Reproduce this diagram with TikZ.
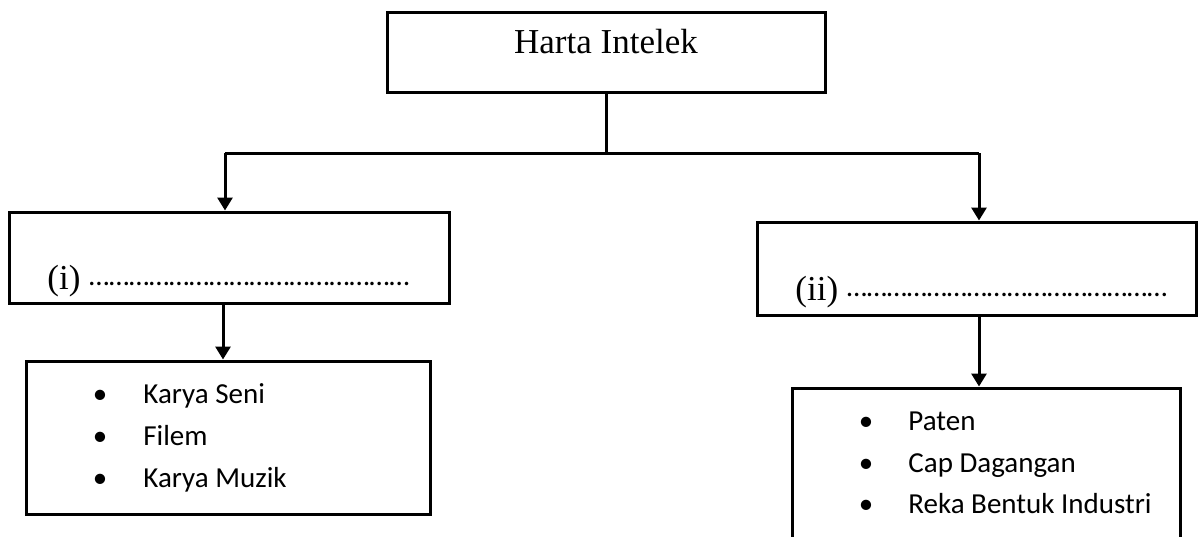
\documentclass[tikz,border=0pt]{standalone}
\usepackage{fontspec}
\setmainfont{Liberation Serif}
\newfontfamily\listfont{Carlito}
\usetikzlibrary{arrows.meta}

\tikzset{
  box/.style={draw, line width=1.5pt, inner sep=0pt},
  arr/.style={line width=1.5pt, -{Triangle[width=7.5pt,length=6.5pt]}},
  title/.style={font=\fontsize{17.5}{20}\selectfont, inner sep=0pt},
  item/.style={font=\listfont\fontsize{14.5}{17}\selectfont, inner sep=0pt}
}

\newcommand{\dotone}{…}
\newcommand{\dotfour}{\dotone\dotone\dotone\dotone}
\newcommand{\blank}{\raisebox{2pt}{\listfont\fontsize{14.5}{17}\selectfont
  \dotfour\dotfour\dotfour\dotfour}}

\begin{document}
\begin{tikzpicture}[x=0.5pt,y=-0.5pt]

\clip (0,0) rectangle (1198,536);

% Top box
\node[box, minimum width=219pt, minimum height=40pt] (top) at (606,52) {};
\node[title, anchor=base] (topText) at (606,53) {Harta Intelek};

%--------------------------------------------------
% Branches
%--------------------------------------------------
\coordinate (jL) at (225,153);
\coordinate (jR) at (979,153);

\draw[line width=1.5pt] (top.south) -- (top.south |- jL);
\draw[line width=1.5pt] (jL) -- (jR);

% Box (i)
\node[box, minimum width=220pt, minimum height=45.5pt] (boxI) at (229,257.5) {};
\node[title, anchor=base west] (boxIText) at (47,289) {(i) \blank};

% Box (ii)
\node[box, minimum width=219.5pt, minimum height=46.5pt] (boxII) at (976.5,268.5) {};
\node[title, anchor=base west] (boxIIText) at (795,300) {(ii) \blank};

\draw[arr] (jL) -- (jL |- boxI.north);
\draw[arr] (jR) -- (jR |- boxII.north);

%--------------------------------------------------
% Left list
%--------------------------------------------------
\node[box, minimum width=202pt, minimum height=76.5pt] (listI) at (228,437.5) {};

\node[item, anchor=base] (bI1) at (100,403) {•};
\node[item, anchor=base west] (tI1) at (143,403) {Karya Seni};
\node[item, anchor=base] (bI2) at (100,445) {•};
\node[item, anchor=base west] (tI2) at (143,445) {Filem};
\node[item, anchor=base] (bI3) at (100,487) {•};
\node[item, anchor=base west] (tI3) at (143,487) {Karya Muzik};

\draw[arr] ([xshift=-3pt]boxI.south) -- ([xshift=-3pt]boxI.south |- listI.north);

%--------------------------------------------------
% Right list
%--------------------------------------------------
\node[box, minimum width=194pt, minimum height=106pt] (listII) at (986,494) {};

\node[item, anchor=base] (bII1) at (866,430) {•};
\node[item, anchor=base west] (tII1) at (908,430) {Paten};
\node[item, anchor=base] (bII2) at (866,472) {•};
\node[item, anchor=base west] (tII2) at (908,472) {Cap Dagangan};
\node[item, anchor=base] (bII3) at (866,513) {•};
\node[item, anchor=base west] (tII3) at (908,513) {Reka Bentuk Industri};

\draw[arr] (boxII.south -| jR) -- (jR |- listII.north);

\end{tikzpicture}
\end{document}
